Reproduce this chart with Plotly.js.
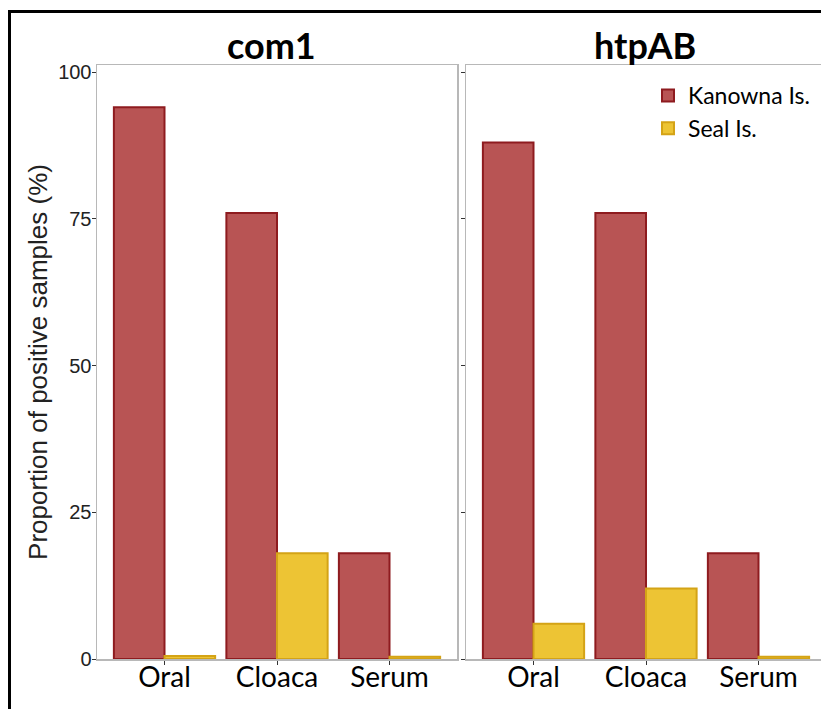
<!DOCTYPE html>
<html><head><meta charset="utf-8">
<script src="https://cdn.plot.ly/plotly-3.0.1.min.js"></script>
<style>
html,body{margin:0;padding:0;overflow:hidden;background:#fff;width:821px;height:709px}
#chart{position:absolute;left:0;top:0;}
#frame{position:absolute;left:8px;top:10px;width:900px;height:800px;border-left:3px solid #000;border-top:3px solid #000;pointer-events:none;z-index:10}
</style></head><body>
<div id="chart"></div><div id="frame"></div>
<script>
const sites = ['Oral', 'Cloaca', 'Serum'];
const panelTitles = ['com1', 'htpAB'];
const seriesNames = ['Kanowna Is.', 'Seal Is.'];
const com1Kanowna = [94, 76, 18];
const com1Seal = [0.5, 18, 0.4];
const htpABKanowna = [88, 76, 18];
const htpABSeal = [6, 12, 0.4];
const yTickVals = [0, 25, 50, 75, 100];
const yTitle = 'Proportion of positive samples (%)';

const W = 830, H = 709;
const kan = {fill: '#b85454', line: '#8e1b1f'};
const seal = {fill: '#edc434', line: '#d4a316'};

function bar(name, y, c, xa, ya, show) {
  return {type: 'bar', name: name, x: sites, y: y, xaxis: xa, yaxis: ya,
    showlegend: show, legendgroup: name,
    marker: {color: c.fill, line: {color: c.line, width: 2}}, hoverinfo: 'x+y+name'};
}
const data = [
  bar(seriesNames[0], com1Kanowna, kan, 'x', 'y', true),
  bar(seriesNames[1], com1Seal, seal, 'x', 'y', true),
  bar(seriesNames[0], htpABKanowna, kan, 'x2', 'y2', false),
  bar(seriesNames[1], htpABSeal, seal, 'x2', 'y2', false)
];
const yDom = [(H - 659) / H, (H - 65) / H];
const axX = (dom) => ({domain: dom, type: 'category', range: [-0.6, 2.6], showline: true, mirror: true,
  linecolor: '#b8b8b8', linewidth: 1.5, ticks: 'outside', ticklen: 4, tickcolor: '#333', tickwidth: 1,
  ticklabelstandoff: -11,
  tickfont: {family: 'Lato, sans-serif', size: 28, color: '#000'}, showgrid: false, zeroline: false,
  automargin: false, fixedrange: true});
const axY = (labels) => ({domain: yDom, range: [0, 101.2], tickvals: yTickVals, showticklabels: labels,
  showline: true, mirror: true, linecolor: '#b8b8b8', linewidth: 1.5, ticks: 'outside', ticklen: 4,
  tickcolor: '#333', tickwidth: 1, ticklabelstandoff: -4,
  tickfont: {family: 'Liberation Sans, Arial, sans-serif', size: 20, color: '#222'},
  showgrid: false, zeroline: false, automargin: false, fixedrange: true});
const titleX = [271, 645];
const layout = {
  width: W, height: H, margin: {l: 0, r: 0, t: 0, b: 0},
  paper_bgcolor: '#fff', plot_bgcolor: '#fff',
  barmode: 'group', bargap: 0.1, bargroupgap: 0,
  xaxis: axX([97 / W, 457 / W]),
  xaxis2: Object.assign(axX([466 / W, 826 / W]), {anchor: 'y2'}),
  yaxis: Object.assign(axY(true), {anchor: 'x', title: {text: yTitle, standoff: 3,
    font: {family: 'Liberation Sans, Arial, sans-serif', size: 26, color: '#222'}}}),
  yaxis2: Object.assign(axY(false), {anchor: 'x2'}),
  showlegend: true,
  legend: {x: 648 / W, y: (H - 74) / H, xanchor: 'left', yanchor: 'top', bgcolor: 'rgba(0,0,0,0)',
    font: {family: 'Lato, sans-serif', size: 23, color: '#000'}, tracegroupgap: 0, itemwidth: 30},
  annotations: panelTitles.map((t, i) => ({text: '<b>' + t + '</b>', xref: 'paper',
    x: titleX[i] / W, yref: 'paper', y: (H - 45) / H, xanchor: 'center', yanchor: 'middle', showarrow: false,
    font: {family: 'Lato, sans-serif', size: 36, color: '#000'}}))
};
Plotly.newPlot('chart', data, layout, {displayModeBar: false, staticPlot: true});
</script>
</body></html>
